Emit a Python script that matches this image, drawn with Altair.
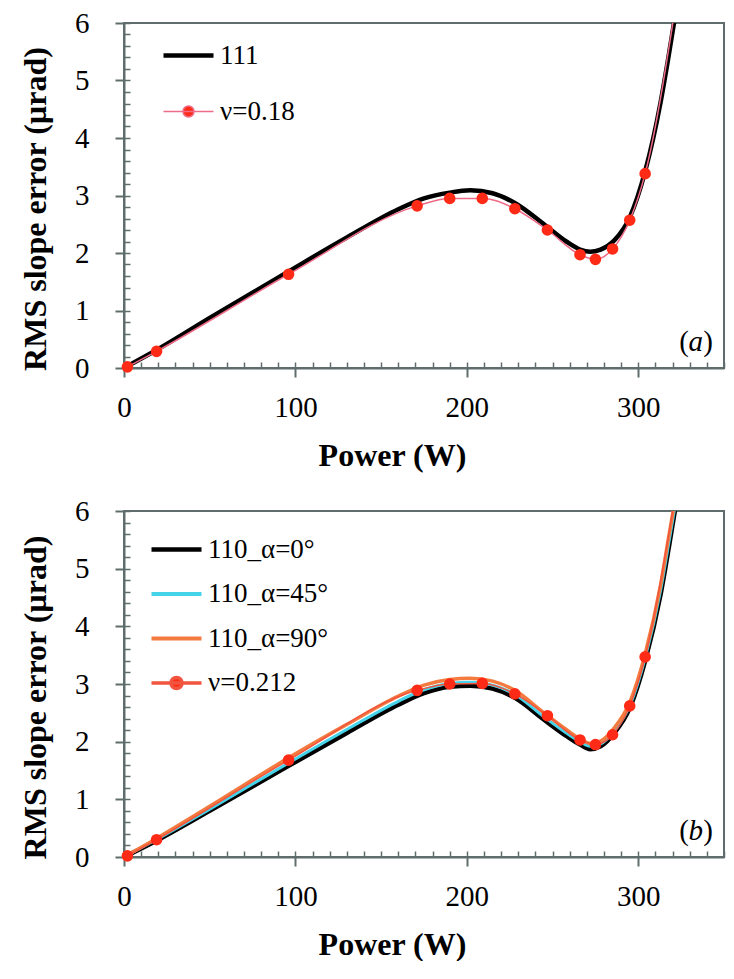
import altair as alt
import pandas as pd

FONT = "Liberation Serif"
AX = "#5f6d6d"

# ---------------- tick values ----------------
x_major = [0, 100, 200, 300]
x_minor = list(range(0, 351, 10))
y_major = [0, 1, 2, 3, 4, 5, 6]
y_minor = [round(i * 0.2, 1) for i in range(31)]

# ---------------- panel (a) ----------------
model_x = [0, 20, 50, 96, 130, 160, 175, 190, 202, 215, 228, 245, 258, 266, 272, 278, 286, 295, 304, 313, 318, 323]
a_111_y = [0.0, 0.33, 0.87, 1.68, 2.27, 2.76, 2.95, 3.05, 3.09, 3.04, 2.87, 2.50, 2.20, 2.06, 2.02, 2.06, 2.22, 2.62, 3.42, 4.62, 5.48, 6.4]
nu_x = [2, 19, 96, 171, 190, 209, 228, 247, 266, 275, 285, 295, 304, 322]
a_nu_y = [0.02, 0.29, 1.63, 2.82, 2.95, 2.95, 2.77, 2.40, 1.97, 1.89, 2.07, 2.57, 3.38, 6.35]

# ---------------- panel (b) ----------------
b_0_y = [0.0, 0.30, 0.80, 1.58, 2.15, 2.64, 2.84, 2.95, 2.97, 2.92, 2.76, 2.38, 2.10, 1.95, 1.87, 1.92, 2.15, 2.58, 3.40, 4.55, 5.40, 6.3]
b_45_y = [0.0, 0.32, 0.83, 1.63, 2.21, 2.70, 2.90, 3.01, 3.03, 2.98, 2.82, 2.43, 2.15, 2.00, 1.92, 1.96, 2.19, 2.62, 3.45, 4.62, 5.48, 6.35]
b_90_y = [0.0, 0.34, 0.88, 1.72, 2.30, 2.79, 2.98, 3.08, 3.10, 3.05, 2.89, 2.50, 2.21, 2.05, 1.97, 2.01, 2.24, 2.68, 3.52, 4.72, 5.60, 6.45]
b_nu_y = [0.02, 0.30, 1.68, 2.89, 3.00, 3.01, 2.83, 2.45, 2.03, 1.95, 2.12, 2.62, 3.47, 6.35]

names_a = ["111", "ν=0.18"]
names_b = ["110_α=0°", "110_α=45°", "110_α=90°", "ν=0.212"]

BLACK = "#000000"
CYAN = "#45d3ea"
ORANGE = "#f47b3f"
PINK = "#ef6a86"
NU_B = "#f2553f"
RED = "#ff2b17"

LINE_PATH = "M-1,0H4"
DOT_PATH = "M-1,0H4M2.05,0A0.55,0.55 0 1,1 0.95,0A0.55,0.55 0 1,1 2.05,0Z"


def df_of(xs, ys, name):
    return pd.DataFrame({"x": xs, "y": ys, "series": name})


XS = alt.Scale(domain=[0, 350], nice=False, zero=False)
YS = alt.Scale(domain=[0, 6], nice=False, zero=False)


def x_main(h):
    return alt.Axis(values=x_major, orient="bottom", title="Power  (W)", tickSize=9, tickWidth=2,
                    tickColor=AX, domainColor=AX, domainWidth=2, labelFont=FONT, labelFontSize=29,
                    labelColor="black", labelPadding=16, labelFlush=False, labelOverlap=False,
                    titleFont=FONT, titleFontSize=32, titleFontWeight="bold", titleColor="black",
                    titlePadding=18, titleX=268, grid=False)


def y_main(h):
    return alt.Axis(values=y_major, orient="left", title="RMS slope error (µrad)", tickSize=9, tickWidth=2,
                    tickColor=AX, domainColor=AX, domainWidth=2, labelFont=FONT, labelFontSize=29,
                    labelColor="black", labelPadding=26, labelFlush=False, labelOverlap=False,
                    titleFont=FONT, titleFontSize=32, titleFontWeight="bold", titleColor="black",
                    titlePadding=22, titleY=h / 2 + 13, grid=False)


x_min = alt.Axis(values=x_minor, orient="bottom", title=None, labels=False, domain=False, tickSize=6,
                 offset=-6, tickWidth=1.5, tickColor=AX, grid=False)
y_min = alt.Axis(values=y_minor, orient="left", title=None, labels=False, domain=False, tickSize=6,
                 offset=-6, tickWidth=1.5, tickColor=AX, grid=False)


def panel(lines, nu_df, nu_line_color, names, strokes, fills, widths, shapes, letter, lx, ly, rowpad, h):
    layers = []
    first = True
    for df, color, w in lines:
        layers.append(
            alt.Chart(df).mark_line(clip=True, interpolate="monotone", color=color, strokeWidth=w).encode(
                x=alt.X("x:Q", scale=XS, axis=x_main(h) if first else None),
                y=alt.Y("y:Q", scale=YS, axis=y_main(h) if first else None),
            )
        )
        first = False
    layers.append(
        alt.Chart(nu_df).mark_line(clip=True, interpolate="monotone", color=nu_line_color, strokeWidth=1.5).encode(
            x=alt.X("x:Q", scale=XS, axis=None), y=alt.Y("y:Q", scale=YS, axis=None)
        )
    )
    layers.append(
        alt.Chart(nu_df).transform_filter("datum.y <= 6").mark_point(filled=True, color=RED, size=135, opacity=1).encode(
            x=alt.X("x:Q", scale=XS, axis=None), y=alt.Y("y:Q", scale=YS, axis=None)
        )
    )
    leg = alt.Legend(orient="none", legendX=lx, legendY=ly, title=None, labelFont=FONT, labelFontSize=27,
                     labelColor="black", symbolSize=400, labelOffset=33, rowPadding=rowpad, padding=0,
                     symbolOpacity=1)
    layers.append(
        alt.Chart(nu_df).transform_filter("false").mark_point(filled=True, size=400, opacity=1).encode(
            x=alt.X("x:Q", scale=XS, axis=x_min),
            y=alt.Y("y:Q", scale=YS, axis=y_min),
            stroke=alt.Stroke("series:N", scale=alt.Scale(domain=names, range=strokes), legend=leg),
            fill=alt.Fill("series:N", scale=alt.Scale(domain=names, range=fills), legend=leg),
            shape=alt.Shape("series:N", scale=alt.Scale(domain=names, range=shapes), legend=leg),
            strokeWidth=alt.StrokeWidth("series:N", scale=alt.Scale(domain=names, range=widths), legend=leg),
        )
    )
    one = alt.Data(values=[{}])
    ty = h - 17
    layers.append(alt.Chart(one).mark_text(text=")", font=FONT, fontSize=29, align="right", baseline="alphabetic").encode(
        x=alt.value(589), y=alt.value(ty)))
    layers.append(alt.Chart(one).mark_text(text=letter, font=FONT, fontSize=29, fontStyle="italic", align="right",
                                           baseline="alphabetic").encode(x=alt.value(579), y=alt.value(ty)))
    layers.append(alt.Chart(one).mark_text(text="(", font=FONT, fontSize=29, align="right", baseline="alphabetic").encode(
        x=alt.value(565), y=alt.value(ty)))
    return alt.layer(*layers).resolve_axis(x="independent", y="independent").properties(width=600, height=h)


pa = panel(
    [(df_of(model_x, a_111_y, "111"), BLACK, 4.5)],
    df_of(nu_x, a_nu_y, "ν=0.18"), PINK,
    names_a, [BLACK, PINK], [BLACK, RED], [4.5, 1.5], [LINE_PATH, DOT_PATH], "a", 36, 19, 28, 345,
)
pb = panel(
    [(df_of(model_x, b_0_y, "110_α=0°"), BLACK, 4.5),
     (df_of(model_x, b_45_y, "110_α=45°"), CYAN, 3.0),
     (df_of(model_x, b_90_y, "110_α=90°"), ORANGE, 3.5)],
    df_of(nu_x, b_nu_y, "ν=0.212"), NU_B,
    names_b, [BLACK, CYAN, ORANGE, NU_B], [BLACK, CYAN, ORANGE, RED], [4.5, 3.5, 3.5, 1.5],
    [LINE_PATH, LINE_PATH, LINE_PATH, DOT_PATH], "b", 24, 25, 16.5, 346,
)

chart = alt.vconcat(pa, pb, spacing=24).resolve_scale(
    stroke="independent", fill="independent", shape="independent", strokeWidth="independent"
).resolve_legend(
    stroke="independent", fill="independent", shape="independent", strokeWidth="independent"
).properties(
    padding={"left": 10, "top": 0, "right": 0, "bottom": 0}
).configure(
    font=FONT, background="white"
).configure_view(
    stroke=AX, strokeWidth=2
).configure_axis(
    labelFont=FONT, titleFont=FONT
).configure_legend(
    labelFont=FONT
).configure_text(font=FONT)

chart.save("out.html", embed_options={"renderer": "svg", "actions": False})
